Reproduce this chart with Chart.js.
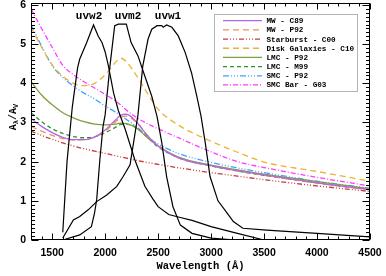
<!DOCTYPE html>
<html><head><meta charset="utf-8">
<script src="https://cdn.jsdelivr.net/npm/chart.js@4.4.1/dist/chart.umd.min.js"></script>
<style>html,body{margin:0;padding:0;background:#fff}</style>
</head><body>
<canvas id="c" width="386" height="276"></canvas>
<script>
// ---- data ----
const xTicks = [1500, 2000, 2500, 3000, 3500, 4000, 4500];
const yTicks = [0, 1, 2, 3, 4, 5, 6];
const waveGrid = [1300,1400,1500,1600,1700,1800,1900,2000,2100,2150,2200,2300,2400,2500,2700,3000,3250,3500,4000,4500];
const mwC89    = [3.10,2.90,2.74,2.62,2.56,2.56,2.63,2.81,3.07,3.19,3.21,3.00,2.66,2.40,2.09,1.90,1.77,1.66,1.46,1.29];
const mwP92    = [2.90,2.78,2.67,2.59,2.55,2.56,2.62,2.78,3.02,3.13,3.16,2.99,2.67,2.41,2.09,1.89,1.76,1.65,1.45,1.28];
const sbC00    = [2.78,2.67,2.57,2.48,2.40,2.33,2.27,2.21,2.15,2.12,2.09,2.03,1.98,1.93,1.84,1.72,1.63,1.54,1.38,1.24];
const diskC10  = [5.43,4.92,4.47,4.18,4.00,3.94,4.00,4.22,4.54,4.64,4.55,4.18,3.74,3.34,2.92,2.52,2.24,1.99,1.75,1.50];
const lmcP92   = [4.05,3.70,3.45,3.25,3.12,3.02,2.96,2.94,2.96,2.98,2.97,2.85,2.61,2.40,2.11,1.91,1.79,1.68,1.49,1.31];
const lmcM99   = [3.25,3.02,2.84,2.72,2.64,2.61,2.63,2.74,2.88,2.95,2.96,2.86,2.62,2.38,2.09,1.89,1.76,1.65,1.46,1.28];
const smcP92   = [5.50,4.95,4.45,4.15,3.93,3.75,3.60,3.42,3.26,3.17,3.08,2.88,2.63,2.45,2.20,1.98,1.84,1.72,1.50,1.32];
const smcBarG03= [5.90,5.40,4.92,4.46,4.22,4.04,3.88,3.72,3.54,3.44,3.32,3.12,2.97,2.84,2.60,2.25,2.00,1.85,1.60,1.38];
const curveLabels = ['MW - C89','MW - P92','Starburst - C00','Disk Galaxies - C10','LMC - P92','LMC - M99','SMC - P92','SMC Bar - G03'];

const uvw2Wave = [1600,1640,1690,1740,1760,1826,1890,1935,1970,2000,2030,2080,2125,2190,2280,2375,2450,2500,2600,2700,2820,3000,3230,3500];
const uvw2Resp = [0.20,2.00,3.40,4.40,4.62,5.04,5.49,5.20,5.04,4.80,4.45,3.75,3.30,2.82,2.05,1.37,1.05,0.85,0.65,0.58,0.50,0.34,0.18,0.00];
const uvm2Wave = [1600,1760,1870,1900,1920,1950,1980,2000,2045,2090,2125,2200,2220,2245,2310,2375,2440,2490,2535,2580,2640,2710,2820,3000,3230];
const uvm2Resp = [0.00,0.13,0.34,0.69,1.03,2.05,2.90,3.20,4.44,5.47,5.51,5.51,5.30,5.04,4.70,4.18,3.67,3.15,2.48,1.62,0.85,0.38,0.17,0.05,0.00];
const uvw1Wave = [1600,1700,1760,1840,1920,2015,2110,2170,2235,2310,2355,2405,2440,2490,2535,2548,2580,2630,2690,2755,2815,2865,2905,2945,2990,3065,3150,3210,3300,3525,4000,4500];
const uvw1Resp = [0.05,0.51,0.60,0.77,0.98,1.15,1.37,1.62,1.92,3.20,4.44,5.13,5.38,5.47,5.47,5.43,5.49,5.43,5.21,4.79,4.27,3.67,3.16,2.48,1.62,1.00,0.69,0.47,0.30,0.25,0.17,0.08];
const filterNames = ['uvw2','uvm2','uvw1'];

// ---- styling ----
const curveSeries = [mwC89, mwP92, sbC00, diskC10, lmcP92, lmcM99, smcP92, smcBarG03];
const curveColors = ['#b466e6','#f0905a','#c43c3c','#f0b030','#7fa040','#2e922e','#40a0ff','#ff3cff'];
const curveDashes = [[], [6,4], [5,2,1,2,1,2,1,2], [6,4], [], [4,3], [6,2,1,2,1,2,1,2], [5,2,1,2]];
const filterWaves = [uvw2Wave, uvm2Wave, uvw1Wave];
const filterResps = [uvw2Resp, uvm2Resp, uvw1Resp];
const filterLabelAt = [1848, 2216, 2593];

const datasets = [];
filterWaves.forEach((w, i) => {
  datasets.push({
    label: filterNames[i],
    data: w.map((v, j) => ({x: v, y: filterResps[i][j]})),
    borderColor: '#000', borderWidth: 1.2, tension: 0, pointRadius: 0, fill: false
  });
});
curveSeries.forEach((s, i) => {
  datasets.push({
    label: curveLabels[i],
    data: waveGrid.map((w, j) => ({x: w, y: s[j]})),
    borderColor: curveColors[i], borderDash: curveDashes[i], borderWidth: 1.3,
    cubicInterpolationMode: 'monotone', pointRadius: 0, fill: false
  });
});

const monoBold = (size) => ({family: 'Liberation Mono', size: size, weight: 'bold'});

const decor = {
  id: 'decor',
  afterDatasetsDraw(chart) {
    const {ctx, chartArea: {left, right, top, bottom}, scales: {x, y}} = chart;
    ctx.save();
    ctx.strokeStyle = '#000'; ctx.lineWidth = 1;
    const L = Math.round(left) + 0.5, R = Math.round(right) - 0.5, T = Math.round(top) + 0.5, B = Math.round(bottom) - 0.5;
    ctx.strokeRect(L, T, R - L, B - T);
    ctx.beginPath();
    for (let v = 1300; v <= 4500; v += 100) {
      const px = Math.round(x.getPixelForValue(v)) + 0.5;
      const len = (v % 500 === 0) ? 6 : 3;
      ctx.moveTo(px, B); ctx.lineTo(px, B - len);
      ctx.moveTo(px, T); ctx.lineTo(px, T + len);
    }
    for (let k = 0; k <= 60; k++) {
      const v = k / 10;
      const py = Math.round(y.getPixelForValue(v)) + 0.5;
      if (py < T) continue;
      const len = (k % 10 === 0) ? 7 : 3.5;
      ctx.moveTo(L, py); ctx.lineTo(L + len, py);
      ctx.moveTo(R, py); ctx.lineTo(R - len, py);
    }
    ctx.stroke();

    // filter names
    ctx.fillStyle = '#000';
    ctx.font = 'bold 11px "Liberation Mono"';
    ctx.textAlign = 'center'; ctx.textBaseline = 'middle';
    filterNames.forEach((n, i) => ctx.fillText(n, x.getPixelForValue(filterLabelAt[i]), 16));

    // legend
    const bx = 214.5, by = 14.5, bw = 143, bh = 77;
    ctx.fillStyle = '#fff'; ctx.fillRect(bx, by, bw, bh);
    ctx.strokeStyle = '#b4b4b4'; ctx.lineWidth = 1; ctx.strokeRect(bx, by, bw, bh);
    ctx.font = 'bold 7.7px "Liberation Mono"';
    ctx.textAlign = 'left'; ctx.textBaseline = 'middle';
    curveLabels.forEach((lab, i) => {
      const ry = 20.7 + i * 9.18;
      ctx.strokeStyle = curveColors[i]; ctx.lineWidth = 1.3;
      ctx.setLineDash(curveDashes[i]);
      ctx.beginPath(); ctx.moveTo(223, ry); ctx.lineTo(262, ry); ctx.stroke();
      ctx.setLineDash([]);
      ctx.fillStyle = '#000';
      ctx.fillText(lab, 266.5, ry + 0.5);
    });

    // y title A_lambda / A_V
    ctx.save();
    ctx.translate(12, 117);
    ctx.rotate(-Math.PI / 2);
    ctx.fillStyle = '#000';
    ctx.textBaseline = 'alphabetic'; ctx.textAlign = 'left';
    const big = 'bold 10px "Liberation Mono"', small = 'bold 7px "Liberation Mono"';
    const parts = [['A', big, 0], ['\u03bb', small, 2.5], ['/A', big, 0], ['V', small, 2.5]];
    let tw = 0;
    parts.forEach(p => { ctx.font = p[1]; tw += ctx.measureText(p[0]).width; });
    let cx = -tw / 2;
    parts.forEach(p => { ctx.font = p[1]; ctx.fillText(p[0], cx, 3.5 + p[2]); cx += ctx.measureText(p[0]).width; });
    ctx.restore();
    ctx.restore();
  }
};

new Chart(document.getElementById('c'), {
  type: 'line',
  data: {datasets},
  options: {
    responsive: false, animation: false, devicePixelRatio: 1,
    layout: {padding: {left: 0, right: 16, top: 3, bottom: 0}},
    plugins: {legend: {display: false}, tooltip: {enabled: false}},
    scales: {
      x: {
        type: 'linear', min: 1300, max: 4500,
        afterBuildTicks: s => { s.ticks = xTicks.map(v => ({value: v})); },
        afterFit: s => { s.height = 36; s.paddingLeft = 0; s.paddingRight = 0; },
        grid: {display: false, drawTicks: false}, border: {display: false},
        ticks: {color: '#000', padding: 7, maxRotation: 0, autoSkip: false,
                font: {family: 'Liberation Sans', size: 10.5, weight: 'bold'}, callback: v => String(v)},
        title: {display: true, text: 'Wavelength (\u00c5)', color: '#000', font: monoBold(10.5), padding: {top: 0, bottom: 3}}
      },
      y: {
        type: 'linear', min: 0, max: 6.05,
        afterBuildTicks: s => { s.ticks = yTicks.map(v => ({value: v})); },
        afterFit: s => { s.width = 31; s.paddingTop = 0; s.paddingBottom = 0; },
        grid: {display: false, drawTicks: false}, border: {display: false},
        ticks: {color: '#000', padding: 5, autoSkip: false,
                font: {family: 'Liberation Sans', size: 10.5, weight: 'bold'}, callback: v => String(v)}
      }
    }
  },
  plugins: [decor]
});
</script>
</body></html>
